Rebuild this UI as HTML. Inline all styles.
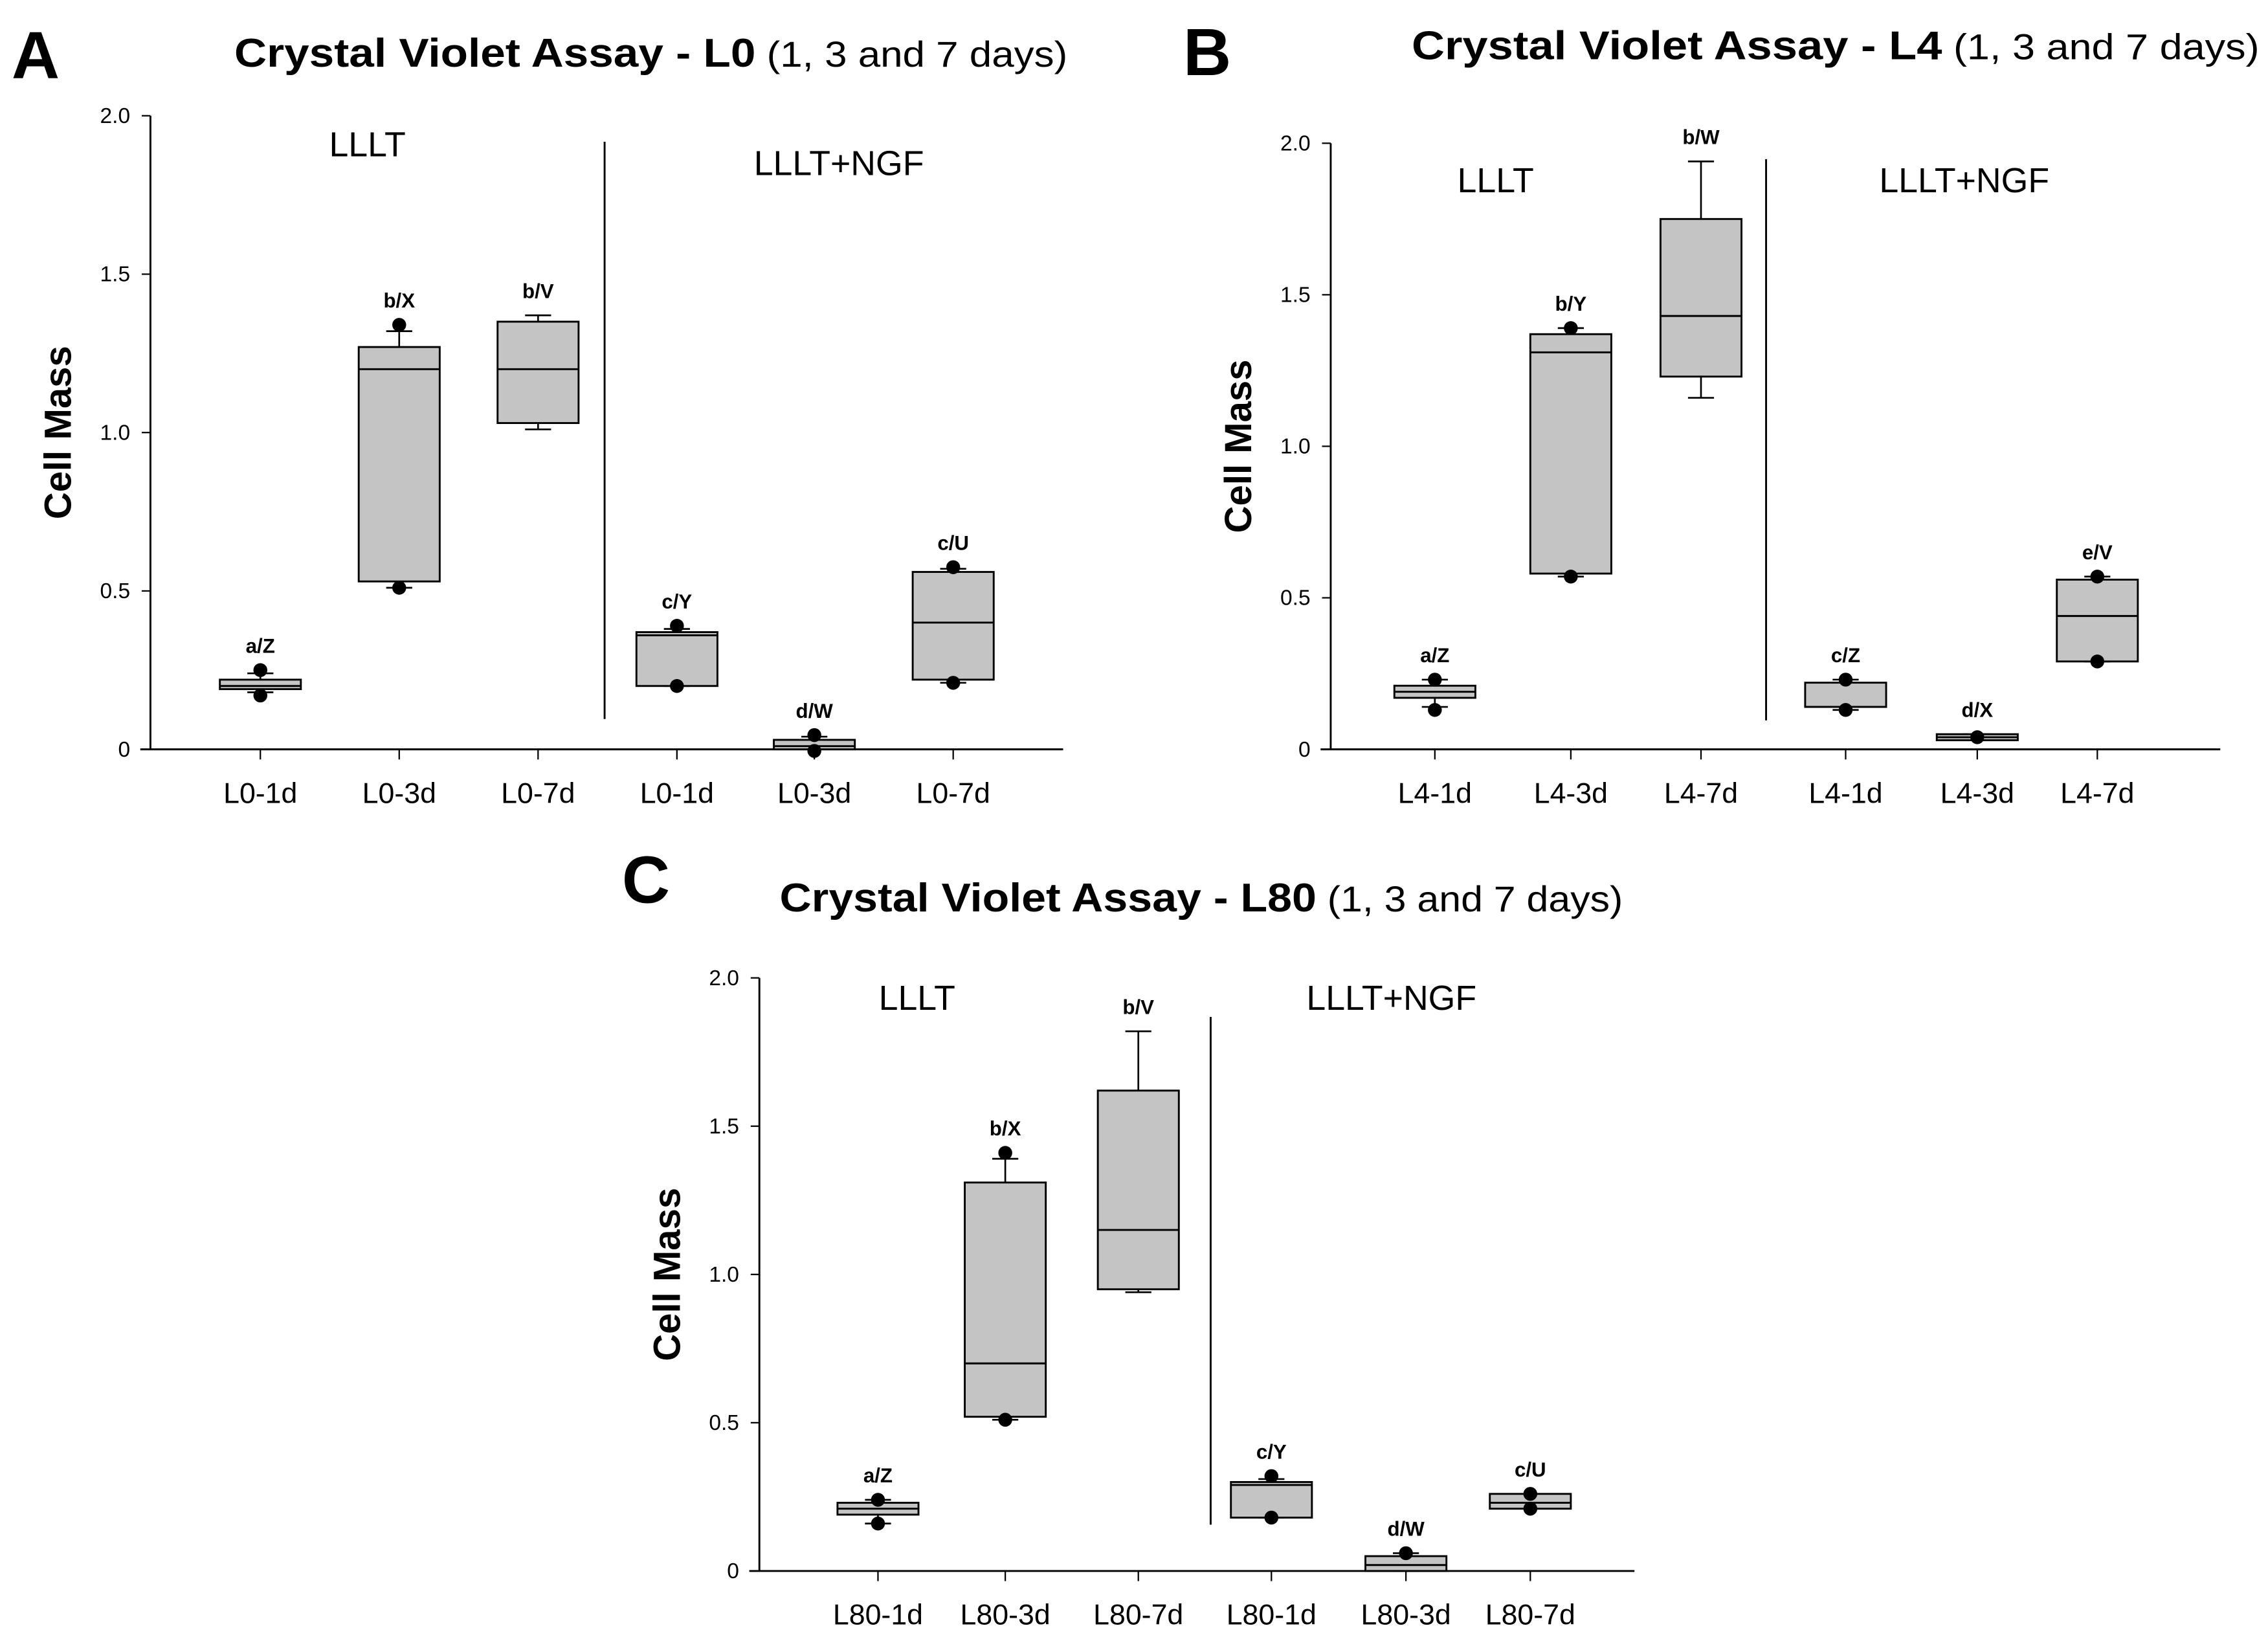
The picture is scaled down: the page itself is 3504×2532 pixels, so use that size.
<!DOCTYPE html>
<html><head><meta charset="utf-8"><style>
html,body{margin:0;padding:0;background:#fff;}
svg{display:block;}
text{font-family:"Liberation Sans",sans-serif;fill:#000;}
</style></head><body>
<svg id="fig" width="3504" height="2532" viewBox="0 0 1568 1133" xmlns="http://www.w3.org/2000/svg">
<rect width="1568" height="1133" fill="#fff"/>
</svg>
<script>
// ---- data ----
const catsA = ["L0-1d","L0-3d","L0-7d","L0-1d","L0-3d","L0-7d"];
const catsB = ["L4-1d","L4-3d","L4-7d","L4-1d","L4-3d","L4-7d"];
const catsC = ["L80-1d","L80-3d","L80-7d","L80-1d","L80-3d","L80-7d"];
// [whiskerLow, q1, median, q3, whiskerHigh]
const statsA = [[0.18,0.19,0.20,0.22,0.24],[0.51,0.53,1.20,1.27,1.32],[1.01,1.03,1.20,1.35,1.37],[0.20,0.20,0.36,0.37,0.38],[0.0,0.0,0.01,0.03,0.04],[0.21,0.22,0.40,0.56,0.57]];
const statsB = [[0.14,0.17,0.19,0.21,0.23],[0.57,0.58,1.31,1.37,1.39],[1.16,1.23,1.43,1.75,1.94],[0.13,0.14,0.14,0.22,0.23],[0.03,0.03,0.04,0.05,0.05],[0.29,0.29,0.44,0.56,0.57]];
const statsC = [[0.16,0.19,0.21,0.23,0.24],[0.51,0.52,0.70,1.31,1.39],[0.94,0.95,1.15,1.62,1.82],[0.18,0.18,0.29,0.30,0.31],[0.0,0.0,0.02,0.05,0.06],[0.21,0.21,0.23,0.26,0.26]];
const outA = [[0.25,0.17],[1.34,0.51],[],[0.39,0.20],[0.045,-0.005],[0.575,0.21]];
const outB = [[0.23,0.13],[1.39,0.57],[],[0.23,0.13],[0.04],[0.57,0.29]];
const outC = [[0.24,0.16],[1.41,0.51],[],[0.32,0.18],[0.06],[0.26,0.21]];
const lettersA = ["a/Z","b/X","b/V","c/Y","d/W","c/U"];
const lettersB = ["a/Z","b/Y","b/W","c/Z","d/X","e/V"];
const lettersC = ["a/Z","b/X","b/V","c/Y","d/W","c/U"];
const yTicks = [0,0.5,1.0,1.5,2.0];
const yTickLabels = ["0","0.5","1.0","1.5","2.0"];

const NS="http://www.w3.org/2000/svg";
const svg=document.getElementById('fig');
function mk(tag,attrs,parent,txt){const e=document.createElementNS(NS,tag);for(const k in attrs)e.setAttribute(k,attrs[k]);if(txt!==undefined)e.textContent=txt;(parent||svg).appendChild(e);return e;}

function panel(cfg){
  const g=mk('g',{});
  
  
  const y=v=>cfg.y0-(v/2)*(cfg.y0-cfg.y2);
  const ya=mk('line',{x1:cfg.ax,y1:cfg.y2,x2:cfg.ax,y2:cfg.y0,stroke:'#000','stroke-width':1.3},g);
  
  
  const xa=mk('line',{x1:cfg.ax-7,y1:cfg.y0,x2:cfg.xEnd,y2:cfg.y0,stroke:'#000','stroke-width':1.3},g);
  
  
  yTicks.forEach((t,i)=>{
    mk('line',{x1:cfg.ax-6,y1:y(t),x2:cfg.ax,y2:y(t),stroke:'#000','stroke-width':1},g);
    const tl=mk('text',{x:cfg.ax-14,y:y(t)+5,'font-size':15,'text-anchor':'end'},g,yTickLabels[i]);
    
    
  });
  const yt=mk('text',{x:0,y:0,'font-size':26,'font-weight':'bold','text-anchor':'middle',transform:`translate(${cfg.ax-55},${(cfg.y0+cfg.y2)/2}) rotate(-90)`},g,'Cell Mass');
  
  
  const dv=mk('line',{x1:cfg.div,y1:cfg.divTop,x2:cfg.div,y2:cfg.divBot,stroke:'#000','stroke-width':1.3},g);
  
  
  const l1=mk('text',{x:cfg.g1x,y:cfg.g1y,'font-size':24,'text-anchor':'middle'},g,'LLLT');
  
  
  const l2=mk('text',{x:cfg.g2x,y:cfg.g2y,'font-size':24,'text-anchor':'middle'},g,'LLLT+NGF');
  
  
  const hw=28;
  cfg.cats.forEach((c,i)=>{
    const cx=cfg.centers[i], s=cfg.stats[i];
    mk('line',{x1:cx,y1:cfg.y0,x2:cx,y2:cfg.y0+7,stroke:'#000','stroke-width':1},g);
    const xl=mk('text',{x:cx,y:cfg.y0+37,'font-size':20,'text-anchor':'middle'},g,c);
    
    
    const bg=mk('g',{},g);
    
    
    mk('line',{x1:cx,y1:y(s[0]),x2:cx,y2:y(s[1]),stroke:'#000','stroke-width':1.2},bg);
    mk('line',{x1:cx,y1:y(s[3]),x2:cx,y2:y(s[4]),stroke:'#000','stroke-width':1.2},bg);
    mk('line',{x1:cx-9,y1:y(s[0]),x2:cx+9,y2:y(s[0]),stroke:'#000','stroke-width':1.2},bg);
    mk('line',{x1:cx-9,y1:y(s[4]),x2:cx+9,y2:y(s[4]),stroke:'#000','stroke-width':1.2},bg);
    mk('rect',{x:cx-hw,y:y(s[3]),width:2*hw,height:Math.max(1,y(s[1])-y(s[3])),fill:'#c4c4c4',stroke:'#000','stroke-width':1.3},bg);
    mk('line',{x1:cx-hw,y1:y(s[2]),x2:cx+hw,y2:y(s[2]),stroke:'#000','stroke-width':1.3},bg);
    cfg.out[i].forEach(v=>{
      const d=mk('circle',{cx:cx,cy:y(v),r:4.8,fill:'#000'},bg);
      
      
    });
    const top=Math.max(s[4],...cfg.out[i],s[3]);
    const lt=mk('text',{x:cx,y:y(top)-12,'font-size':14,'font-weight':'bold','text-anchor':'middle'},g,cfg.letters[i]);
    
    
  });
  const tl=mk('text',{x:cfg.tx,y:cfg.ty,'font-size':28,textLength:cfg.tw,lengthAdjust:'spacingAndGlyphs'},g);
  
  
  mk('tspan',{'font-weight':'bold'},tl,cfg.title);
  mk('tspan',{'font-size':25},tl,' (1, 3 and 7 days)');
  const pl=mk('text',{x:cfg.px,y:cfg.py,'font-size':46,'font-weight':'bold'},g,cfg.letter);
  
  
}

panel({name:'panel-a',cats:catsA,stats:statsA,out:outA,letters:lettersA,ax:104,xEnd:735,y0:518,y2:80,centers:[180,276,372,468,563,659],div:418,divTop:98,divBot:497,g1x:254,g1y:108,g2x:580,g2y:121,title:'Crystal Violet Assay - L0',tx:162,ty:46,tw:576,letter:'A',px:8,py:54});
panel({name:'panel-b',cats:catsB,stats:statsB,out:outB,letters:lettersB,ax:920,xEnd:1535,y0:518,y2:99,centers:[992,1086,1176,1276,1367,1450],div:1221,divTop:110,divBot:498,g1x:1034,g1y:133,g2x:1358,g2y:133,title:'Crystal Violet Assay - L4',tx:976,ty:41,tw:586,letter:'B',px:818,py:52});
panel({name:'panel-c',cats:catsC,stats:statsC,out:outC,letters:lettersC,ax:525,xEnd:1130,y0:1086,y2:676,centers:[607,695,787,879,972,1058],div:837,divTop:703,divBot:1054,g1x:634,g1y:698,g2x:962,g2y:698,title:'Crystal Violet Assay - L80',tx:539,ty:630,tw:583,letter:'C',px:430,py:624});
</script>
</body></html>
